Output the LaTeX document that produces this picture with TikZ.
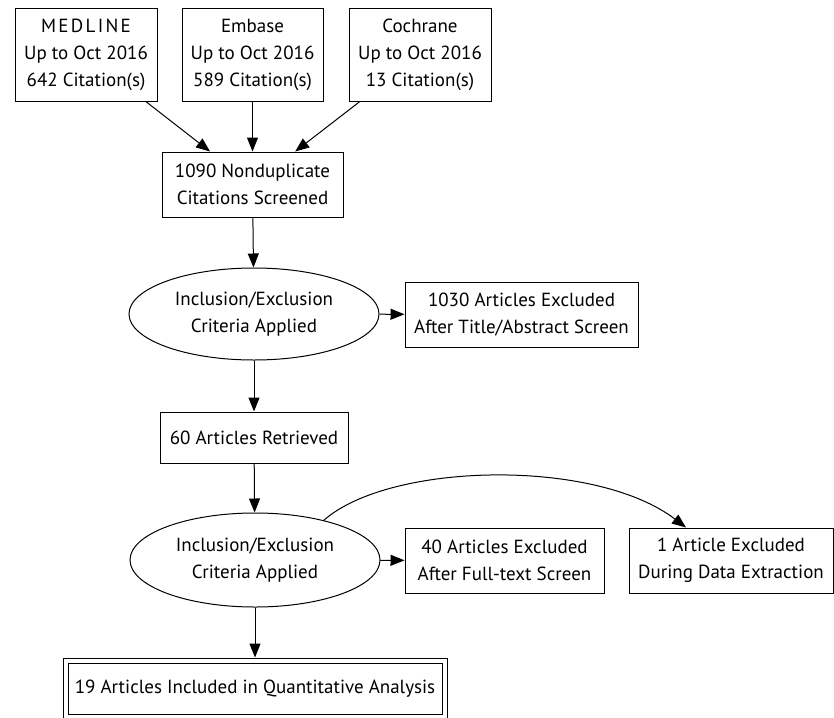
\documentclass[tikz,border=0pt]{standalone}
\usepackage{fontspec}
\setmainfont{PT Sans}
\usetikzlibrary{arrows.meta,shapes.geometric}
\begin{document}
\begin{tikzpicture}[x=1pt,y=-1pt,
  txt/.style={align=center, inner sep=0pt, font=\fontsize{19}{27}\selectfont},
  stepbox/.style={txt, draw, line width=1pt, rectangle},
  ell/.style={txt, draw, line width=1pt, ellipse},
  arr/.style={-{Triangle[length=14pt,width=11pt]}, line width=1pt}]
\useasboundingbox (0,0) rectangle (834,717);
\node[stepbox, minimum width=142pt, minimum height=92pt] (med) at (86,55)
  {{\addfontfeature{LetterSpace=12}MEDLINE}\\Up to Oct 2016\\642 Citation(s)};
\node[stepbox, minimum width=141pt, minimum height=92pt] (emb) at (252.5,55)
  {Embase\\Up to Oct 2016\\589 Citation(s)};
\node[stepbox, minimum width=142pt, minimum height=92pt] (coc) at (420,55)
  {Cochrane\\Up to Oct 2016\\13 Citation(s)};
\node[stepbox, minimum width=181pt, minimum height=65pt] (nd) at (252.5,184.5)
  {1090 Nondupli\-cate\\Citations Screened};
\node[ell, minimum width=250pt, minimum height=92pt] (e1) at (254,314)
  {Inclusion/Exclusion\\Criteria Applied};
\node[stepbox, minimum width=233pt, minimum height=65pt] (ex1) at (521.5,314.5)
  {1030 Articles Excluded\\After Title/Abstract Screen};
\node[stepbox, minimum width=188pt, minimum height=51pt] (a60) at (254,437.5)
  {60 Articles Retrieved};
\node[ell, minimum width=250pt, minimum height=94pt] (e2) at (255,560)
  {Inclusion/Exclusion\\Criteria Applied};
\node[stepbox, minimum width=199pt, minimum height=65pt] (ex2) at (504.5,560.5)
  {40 Articles Excluded\\After Full-text Screen};
\node[stepbox, minimum width=204pt, minimum height=65pt] (ex3) at (731,560.5)
  {1 Article Excluded\\During Data Extraction};
\node[stepbox, double, double distance=4pt, outer sep=3pt, minimum width=379pt, minimum height=56pt] (fin) at (255,688.5)
  {19 Articles Included in Quantitative Analysis};
\coordinate (ex3in) at ([xshift=-45pt]ex3.north);
\draw[arr] (med) -- (nd);
\draw[arr] (emb) -- (nd);
\draw[arr] (coc) -- (nd);
\draw[arr] (nd) -- (e1);
\draw[arr] (e1) -- (ex1);
\draw[arr] (e1) -- (a60);
\draw[arr] (a60) -- (e2);
\draw[arr] (e2) -- (ex2);
\draw[arr] (e2) -- (fin);
\draw[arr] (e2.30.6) .. controls (390,462) and (595,458) .. (ex3in);
\end{tikzpicture}
\end{document}
